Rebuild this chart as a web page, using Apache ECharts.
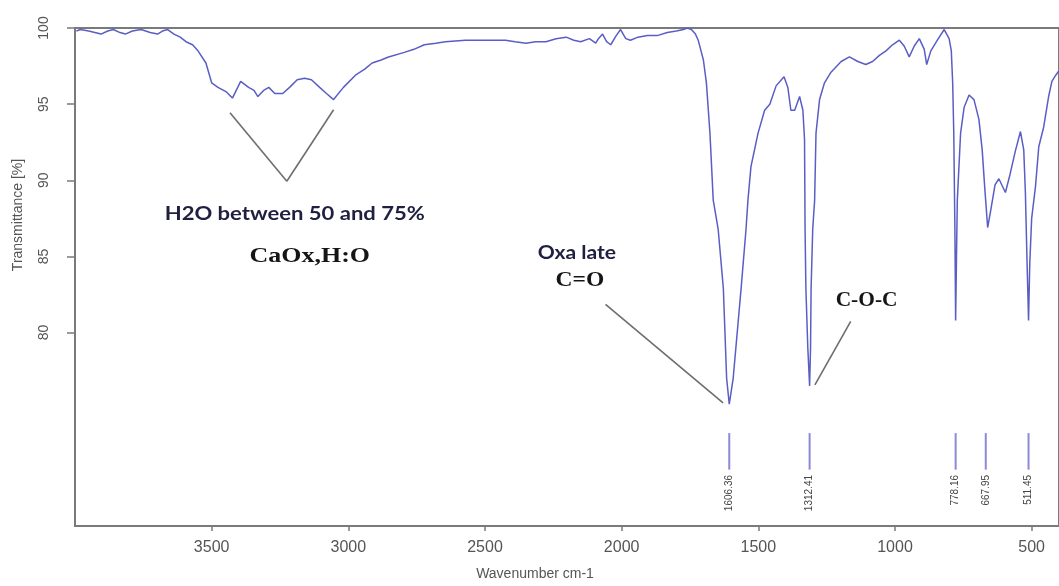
<!DOCTYPE html>
<html><head><meta charset="utf-8">
<script src="https://cdn.jsdelivr.net/npm/echarts@6/dist/echarts.min.js"></script>
<style>html,body{margin:0;padding:0;background:#fff}#c{width:1059px;height:586px}</style>
</head><body><div id="c"></div>
<script>
// ---- data ----
const wavenumber = [3995,3980,3950,3905,3880,3860,3835,3816,3790,3758,3725,3698,3680,3661,3638,3615,3594,3570,3550,3521,3500,3477,3446,3424,3394,3365,3345,3331,3310,3291,3269,3240,3215,3187,3160,3135,3105,3080,3054,3018,2974,2940,2913,2880,2853,2795,2760,2722,2680,2645,2572,2500,2425,2390,2350,2315,2277,2240,2203,2175,2150,2118,2095,2085,2070,2055,2040,2020,2004,1985,1968,1940,1906,1870,1833,1800,1774,1760,1745,1730,1720,1701,1690,1677,1665,1647,1628,1616,1606.4,1592,1563,1545,1538,1527,1501,1477,1458,1435,1406,1392,1381,1367,1349,1337,1331,1329,1326,1319,1312.4,1309,1307,1301,1294,1289,1276,1258,1234,1197,1167,1136,1107,1082,1057,1033,1009,984,966,948,930,911,893,884,869,845,820,802,794,789,785,781,778.2,775,772,760,747,729,711,693,681,672,661,652,634,620,596,579,560,541,529,523,516,511.4,507,500,486,474,456,438,426,412,400];
const transmittance = [99.8,99.9,99.8,99.6,99.8,99.9,99.7,99.6,99.8,99.9,99.7,99.6,99.8,99.9,99.6,99.4,99.1,98.9,98.5,97.7,96.4,96.1,95.8,95.4,96.5,96.1,95.9,95.5,95.9,96.1,95.7,95.7,96.1,96.6,96.7,96.6,96.1,95.7,95.3,96.1,96.9,97.3,97.7,97.9,98.1,98.4,98.6,98.9,99.0,99.1,99.2,99.2,99.2,99.1,99.0,99.1,99.1,99.3,99.4,99.2,99.1,99.3,99.0,99.3,99.6,99.1,98.9,99.5,99.9,99.3,99.2,99.4,99.5,99.5,99.7,99.8,99.9,100.0,99.9,99.6,99.2,97.9,96.4,93.1,88.7,86.8,82.9,77.0,75.3,77.0,82.9,86.8,88.7,90.9,93.1,94.6,95.0,96.2,96.8,96.1,94.6,94.6,95.5,94.6,92.7,86.8,82.9,79.0,76.5,79.0,82.9,86.8,88.7,93.1,95.3,96.4,97.1,97.8,98.1,97.8,97.6,97.8,98.2,98.5,98.9,99.2,98.8,98.1,98.8,99.3,98.6,97.6,98.5,99.2,99.9,99.3,98.5,96.4,93.1,87.0,80.8,85.0,88.7,93.1,94.8,95.6,95.3,94.0,92.0,89.6,86.9,87.8,89.7,90.1,89.2,90.4,91.9,93.2,92.0,89.2,84.0,80.8,84.5,87.5,89.6,92.2,93.5,95.5,96.5,96.9,97.2];
const peakWavenumbers = [1606.36, 1312.41, 778.16, 667.95, 511.45];
const peakLabels = ['1606.36', '1312.41', '778.16', '667.95', '511.45'];
const xTickValues = [3500, 3000, 2500, 2000, 1500, 1000, 500];
const yTickValues = [80, 85, 90, 95, 100];

// ---- annotations (anchored in data coordinates) ----
const noteTexts = [
  {text: 'H2O between 50 and 75%', at: [3196, 87.78], font: 'bold 19px Lato, "Open Sans", sans-serif', fill: '#1f1f40', sx: 1.16},
  {text: 'CaOx,H:O', at: [3141, 84.98], font: 'bold 22px "Liberation Serif", "DejaVu Serif", serif', fill: '#151515', sx: 1.18},
  {text: 'Oxa late', at: [2164, 85.23], font: 'bold 18px Lato, "Open Sans", sans-serif', fill: '#1f1f40', sx: 1.17},
  {text: 'C=O', at: [2153, 83.41], font: 'bold 21px "Liberation Serif", "DejaVu Serif", serif', fill: '#151515', sx: 1.12},
  {text: 'C-O-C', at: [1104, 82.10], font: 'bold 20px "Liberation Serif", "DejaVu Serif", serif', fill: '#151515', sx: 1.07}
];
const noteLines = [
  [[3433, 94.44], [3225, 89.94]],
  [[3225, 89.94], [3054, 94.63]],
  [[2059, 81.85], [1629, 75.39]],
  [[1162, 80.74], [1293, 76.57]]
];

const spectrum = wavenumber.map((w, i) => [w, transmittance[i]]);

const chart = echarts.init(document.getElementById('c'), null, {renderer: 'canvas'});
const axisColor = '#7a7a7a';
const labelColor = '#555';

chart.setOption({
  animation: false,
  backgroundColor: '#fff',
  grid: {left: 75, right: -2, top: 28, bottom: 57, show: true, borderColor: axisColor, borderWidth: 2, backgroundColor: 'transparent'},
  xAxis: {
    type: 'value', inverse: true, min: 400, max: 4000,
    name: 'Wavenumber cm-1', nameLocation: 'middle', nameGap: 41,
    nameTextStyle: {color: labelColor, fontSize: 14, fontFamily: 'Liberation Sans, Arial, sans-serif', padding: [0, 64, 0, 0]},
    axisLine: {show: true, lineStyle: {color: axisColor, width: 2}},
    axisTick: {show: true, customValues: xTickValues, length: 5, lineStyle: {color: axisColor, width: 1.5}},
    axisLabel: {customValues: xTickValues, color: labelColor, fontSize: 16, margin: 14, fontFamily: 'Liberation Sans, Arial, sans-serif',
      formatter: function (v) { return String(v); }},
    splitLine: {show: false}
  },
  yAxis: {
    type: 'value', min: 67.3, max: 100,
    name: 'Transmittance [%]', nameLocation: 'middle', nameGap: 50, nameRotate: 90,
    nameTextStyle: {color: labelColor, fontSize: 14, fontFamily: 'Liberation Sans, Arial, sans-serif', padding: [0, 0, 0, 124]},
    axisLine: {show: true, lineStyle: {color: axisColor, width: 2}},
    axisTick: {show: true, customValues: yTickValues, length: 8, lineStyle: {color: axisColor, width: 1.5}},
    axisLabel: {customValues: yTickValues, rotate: 90, color: labelColor, fontSize: 14, margin: 24, fontFamily: 'Liberation Sans, Arial, sans-serif',
      formatter: function (v) { return String(v); }},
    splitLine: {show: false}
  },
  series: [
    {
      type: 'line', data: spectrum, showSymbol: false, symbol: 'none',
      lineStyle: {color: '#5a5ec4', width: 1.5}, z: 3
    },
    {
      type: 'custom', data: peakWavenumbers.map((w, i) => [w, i]), z: 4,
      renderItem: function (params, api) {
        const w = api.value(0);
        const i = api.value(1);
        const a = api.coord([w, 73.4]);
        const b = api.coord([w, 71.0]);
        const t = api.coord([w, 70.65]);
        return {type: 'group', children: [
          {type: 'line', shape: {x1: a[0], y1: a[1], x2: b[0], y2: b[1]}, style: {stroke: '#8a8ad6', lineWidth: 2}},
          {type: 'text', x: t[0], y: t[1], rotation: Math.PI / 2,
            style: {text: peakLabels[i], fill: '#444', font: '10px "Liberation Sans", Arial, sans-serif', align: 'right', verticalAlign: 'middle'}}
        ]};
      }
    },
    {
      type: 'custom', data: [[2000, 90]], z: 5,
      renderItem: function (params, api) {
        const children = [];
        noteLines.forEach(function (seg) {
          const p = api.coord(seg[0]);
          const q = api.coord(seg[1]);
          children.push({type: 'line', shape: {x1: p[0], y1: p[1], x2: q[0], y2: q[1]}, style: {stroke: '#6e6e6e', lineWidth: 1.6}});
        });
        noteTexts.forEach(function (n) {
          const p = api.coord(n.at);
          children.push({type: 'text', x: p[0], y: p[1], scaleX: n.sx, scaleY: 1,
            style: {text: n.text, font: n.font, fill: n.fill, align: 'center', verticalAlign: 'middle'}});
        });
        return {type: 'group', children: children};
      }
    }
  ]
});
</script>
</body></html>
